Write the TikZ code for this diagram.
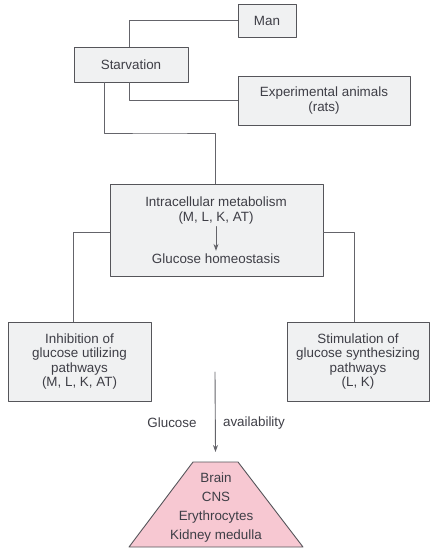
\documentclass[tikz,border=0pt]{standalone}
\usepackage{fontspec}
\setmainfont{Liberation Sans}
\usetikzlibrary{arrows.meta}
\definecolor{ink}{RGB}{62,62,70}
\definecolor{boxborder}{RGB}{85,85,90}
\definecolor{boxfill}{RGB}{240,241,242}
\definecolor{linkgrey}{RGB}{100,100,106}
\definecolor{organpink}{RGB}{247,200,210}

\begin{document}
\begin{tikzpicture}[
    x=1pt,
    y=-1pt,
    font=\fontsize{13.4}{15.5}\selectfont,
    line cap=round,
    line join=round,
    >={Stealth[length=7pt,width=5pt]},
    greybox/.style={
      draw=boxborder,
      fill=boxfill,
      line width=0.9pt,
      align=center,
      text=ink,
      inner sep=2pt
    },
    label/.style={
      text=ink,
      align=center,
      inner sep=1pt
    },
    link/.style={
      draw=linkgrey,
      line width=0.9pt
    }
]
\useasboundingbox (0,0) rectangle (436,554);

% Source of the data.
\node[greybox,minimum width=58pt,minimum height=33pt] (man) at (267,20.5) {Man};
\node[greybox,minimum width=114pt,minimum height=35pt] (starv) at (131,64.5) {Starvation};
\node[greybox,minimum width=172pt,minimum height=49pt] (exp) at (324,100.5)
  {Experimental animals\\(rats)};

\draw[link] (man.west) -| ([xshift=-2pt]starv.north);
\draw[link] ([xshift=-2pt]starv.south) |- (exp.west);

% Central metabolism box.
\node[greybox,minimum width=213pt,minimum height=92pt] (meta) at (216.5,230) {};
\node[label] (metatop) at (216,210.5) {Intracellular metabolism\\(M, L, K, AT)};
\node[label] (metabot) at (216,259) {Glucose homeostasis};
\draw[link,->,shorten <=1pt,shorten >=2pt] (metatop.south) -- (metabot.north);

\coordinate (split) at (160,133);
\draw[link] ([xshift=-27pt]starv.south) |- (split) -| ([xshift=-1.5pt]meta.north);

% Hormonal responses.
\node[greybox,minimum width=143pt,minimum height=79pt,
      font=\fontsize{13.4}{14.5}\selectfont] (inhib) at (79.5,361.5)
  {Inhibition of\\glucose utilizing\\pathways\\(M, L, K, AT)};
\node[greybox,minimum width=142pt,minimum height=79pt,
      font=\fontsize{13.4}{14.5}\selectfont] (stim) at (358,361.5)
  {Stimulation of\\glucose synthesizing\\pathways\\(L, K)};

\draw[link] ([yshift=-2pt]meta.west) -| ([xshift=-6.5pt]inhib.north);
\draw[link] ([yshift=-2pt]meta.east) -| ([xshift=-4pt]stim.north);

% Glucose dependent tissues.
\draw[draw=boxborder,fill=organpink,line width=0.9pt]
  (129,547) -- (193,462) -- (238,462) -- (303,547) -- cycle;
\coordinate (organtop) at (215.5,462);
\node[label,font=\fontsize{13.4}{19}\selectfont] (organs) at (216,507.5)
  {Brain\\CNS\\Erythrocytes\\Kidney medulla};

\coordinate (gstart) at (215,372);
\draw[link,->] (gstart) -- ([yshift=10pt]organtop);
\node[label] (glu) at (172,423) {Glucose};
\node[label] (avail) at (254,423) {availability};

\end{tikzpicture}
\end{document}
